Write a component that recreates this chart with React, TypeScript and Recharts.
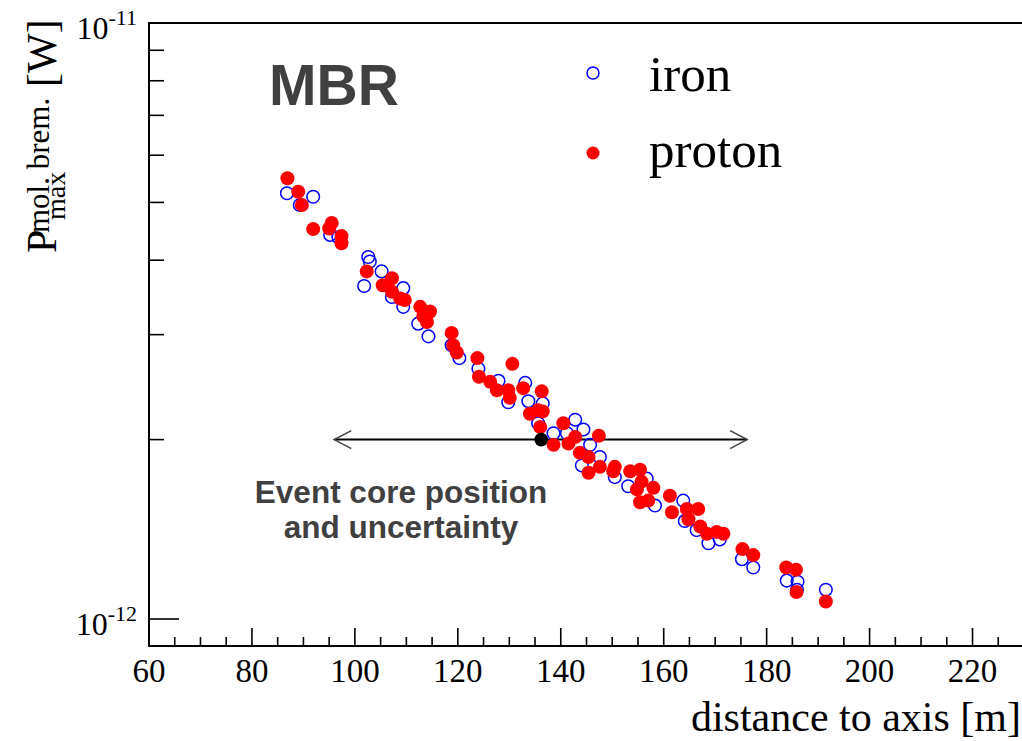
import React from 'react';
import { ScatterChart, Scatter, XAxis, YAxis, ReferenceArea, ReferenceLine, Legend, Label } from 'recharts';

// distances in m, peak power in units of 1e-12 W
const ironDistance = [
  86.8, 89.3, 91.9, 95.2, 96.8, 102.6, 102.9, 101.8, 105.2, 107.2, 109.4, 109.4, 112.3, 114.3, 118.8,
  120.3, 124.0, 127.9, 129.8, 133.1, 133.7, 136.5, 135.6, 138.6, 142.8, 141.2, 144.4, 145.7, 147.6, 144.1,
  150.5, 153.1, 156.7, 158.3, 163.8, 164.1, 166.4, 168.7, 170.9, 175.2, 177.4, 183.9, 186.0, 185.9, 191.5,
];
const ironPower = [
  5.18, 4.95, 5.11, 4.41, 4.37, 4.05, 3.98, 3.62, 3.83, 3.47, 3.59, 3.34, 3.13, 2.98, 2.88,
  2.74, 2.63, 2.51, 2.31, 2.49, 2.32, 2.30, 2.13, 2.05, 2.16, 2.05, 2.08, 1.96, 1.87, 1.81,
  1.73, 1.67, 1.72, 1.55, 1.58, 1.46, 1.41, 1.34, 1.36, 1.26, 1.22, 1.16, 1.155, 1.12, 1.12,
];

const protonDistance = [
  86.9, 89.0, 89.7, 91.9, 95.5, 95.0, 97.4, 97.4, 102.3, 105.4, 107.2, 107.2, 108.8, 109.7, 112.7,
  114.6, 113.3, 114.0, 118.8, 119.1, 119.8, 123.8, 124.1, 130.6, 126.3, 127.6, 129.8, 130.1, 132.7, 136.3,
  134.0, 135.6, 136.5, 136.0, 140.5, 138.6, 142.8, 141.5, 147.4, 143.7, 145.4, 145.4, 147.6, 150.2, 150.5,
  153.5, 155.4, 155.7, 154.8, 158.0, 155.4, 157.0, 161.2, 161.6, 164.5, 166.7, 164.8, 167.1, 168.4, 170.3,
  171.6, 175.3, 177.4, 183.8, 185.7, 185.8, 191.5,
];
const protonPower = [
  5.49, 5.21, 4.95, 4.51, 4.62, 4.52, 4.39, 4.27, 3.83, 3.63, 3.73, 3.54, 3.45, 3.43, 3.34,
  3.28, 3.22, 3.15, 3.02, 2.88, 2.80, 2.74, 2.55, 2.68, 2.50, 2.42, 2.42, 2.35, 2.44, 2.41,
  2.21, 2.24, 2.23, 2.10, 2.13, 1.96, 2.02, 1.97, 2.03, 1.90, 1.87, 1.76, 1.80, 1.77, 1.80,
  1.77, 1.78, 1.70, 1.65, 1.66, 1.57, 1.58, 1.61, 1.51, 1.53, 1.53, 1.47, 1.43, 1.39, 1.40,
  1.39, 1.31, 1.28, 1.22, 1.21, 1.11, 1.07,
];

const coreDistance = 136.2;
const corePower = 2.0;
const coreRange = [96.0, 176.2];

const xTicks = [
  60, 65, 70, 75, 80, 85, 90, 95, 100, 105, 110, 115, 120, 125, 130, 135, 140, 145, 150,
  155, 160, 165, 170, 175, 180, 185, 190, 195, 200, 205, 210, 215, 220, 225, 230,
];
const xLabelTicks = [60, 80, 100, 120, 140, 160, 180, 200, 220];
const yTicks = [1, 2, 3, 4, 5, 6, 7, 8, 9, 10];
const yLabels: Record<number, string> = { 1: '-12', 10: '-11' };
const rightTicks = [0.5, 0.6, 0.7, 0.8, 0.9, 1, 2, 3, 4, 5];

const seriesNames = ['iron', 'proton'];

const serif = "'Liberation Serif', 'Times New Roman', serif";
const sans = "'Liberation Sans', Arial, sans-serif";

const ironData = ironDistance.map((d, i) => ({ distance: d, power: ironPower[i] }));
const protonData = protonDistance.map((d, i) => ({ distance: d, power: protonPower[i] }));
const coreData = [{ distance: coreDistance, power: corePower }];

const XTick = (props: any) => {
  const { x, y, payload } = props;
  const v = payload.value;
  const major = v % 20 === 0;
  return (
    <g>
      {v > 60 && (
        <line x1={x} x2={x} y1={y} y2={y - (major ? 18 : 9)} stroke="#000" strokeWidth={1.6} />
      )}
      {major && xLabelTicks.includes(v) && (
        <text x={x} y={y + 36} textAnchor="middle" fontFamily={serif} fontSize={33} fill="#000">
          {v}
        </text>
      )}
    </g>
  );
};

const YTick = (props: any) => {
  const { x, y, payload } = props;
  const v = payload.value;
  const exp = yLabels[v];
  return (
    <g>
      {v < 10 && (
        <line x1={x} x2={x + (v === 1 ? 30 : 15)} y1={y} y2={y} stroke="#000" strokeWidth={1.6} />
      )}
      {exp && (
        <text x={x - 12} y={y + 16} textAnchor="end" fontFamily={serif} fill="#000">
          <tspan fontSize={32}>10</tspan>
          <tspan fontSize={22} dy={-14}>{exp}</tspan>
        </text>
      )}
    </g>
  );
};

const RightTick = (props: any) => {
  const { x, y, payload } = props;
  const v = payload.value;
  return <line x1={x} x2={x - (v === 1 ? 28 : 15)} y1={y} y2={y} stroke="#000" strokeWidth={1.6} />;
};

const ArrowShape = (props: any) => {
  const { x1, y1, x2, y2 } = props;
  return (
    <g>
      <line x1={x1} y1={y1} x2={x2} y2={y2} stroke="#000" strokeWidth={2} />
      <polyline points={`${x1 + 17},${y1 - 9} ${x1},${y1} ${x1 + 17},${y1 + 9}`} fill="none" stroke="#444" strokeWidth={1.6} />
      <polyline points={`${x2 - 17},${y2 - 9} ${x2},${y2} ${x2 - 17},${y2 + 9}`} fill="none" stroke="#444" strokeWidth={1.6} />
    </g>
  );
};

const IronDot = (props: any) => (
  <circle cx={props.cx} cy={props.cy} r={6.3} fill="none" stroke="#0000ff" strokeWidth={1.5} />
);
const ProtonDot = (props: any) => <circle cx={props.cx} cy={props.cy} r={7} fill="#ff0000" />;
const CoreDot = (props: any) => <circle cx={props.cx} cy={props.cy} r={6.8} fill="#000" />;

const LegendBox = () => (
  <svg width={260} height={150}>
    <circle cx={23} cy={33} r={6} fill="none" stroke="#0000ff" strokeWidth={1.5} />
    <text x={79} y={51} fontFamily={serif} fontSize={51} fill="#000">{seriesNames[0]}</text>
    <circle cx={23} cy={113} r={6.5} fill="#ff0000" />
    <text x={79} y={127} fontFamily={serif} fontSize={51} fill="#000">{seriesNames[1]}</text>
  </svg>
);

const YTitle = () => (
  <g transform="translate(56,253) rotate(-90)" fontFamily={serif} fill="#000">
    <text x={0} y={0} fontSize={42}>P</text>
    <text x={20} y={-7} fontSize={31}>mol. brem.</text>
    <text x={33} y={9} fontSize={28}>max</text>
    <text x={166} y={0} fontSize={42}>[W]</text>
  </g>
);

const XTitle = () => (
  <text x={1021} y={731} textAnchor="end" fontFamily={serif} fontSize={42} fill="#000">
    distance to axis [m]
  </text>
);

export default function App() {
  return (
    <div style={{ position: 'absolute', left: 0, top: 0, width: 1022, height: 741, overflow: 'hidden', background: '#fff' }}>
      <ScatterChart width={1030} height={741} margin={{ top: 23, right: 6, bottom: 0, left: 0 }}>
        <XAxis
          type="number"
          dataKey="distance"
          domain={[60, 230]}
          ticks={xTicks}
          interval={0}
          allowDataOverflow
          height={95}
          axisLine={false}
          tickLine={false}
          tickSize={0}
          tickMargin={0}
          tick={<XTick />}
        >
          <Label content={<XTitle />} />
        </XAxis>
        <YAxis
          type="number"
          dataKey="power"
          scale="log"
          domain={[0.901, 10]}
          ticks={yTicks}
          interval={0}
          allowDataOverflow
          width={149}
          axisLine={false}
          tickLine={false}
          tickSize={0}
          tickMargin={0}
          tick={<YTick />}
        >
          <Label content={<YTitle />} />
        </YAxis>
        <YAxis
          yAxisId="r"
          orientation="right"
          type="number"
          scale="log"
          domain={[0.4575, 5.14]}
          ticks={rightTicks}
          interval={0}
          allowDataOverflow
          width={0}
          axisLine={false}
          tickLine={false}
          tickSize={0}
          tickMargin={0}
          tick={<RightTick />}
        />
        <Legend
          layout="vertical"
          align="center"
          verticalAlign="middle"
          content={<LegendBox />}
          wrapperStyle={{ left: 570, top: 40, width: 260, height: 150 }}
        />
        <Scatter name="iron" data={ironData} shape={<IronDot />} isAnimationActive={false} />
        <Scatter name="proton" data={protonData} shape={<ProtonDot />} isAnimationActive={false} />
        <ReferenceLine
          segment={[
            { x: coreRange[0], y: corePower },
            { x: coreRange[1], y: corePower },
          ]}
          shape={<ArrowShape />}
        />
        <Scatter name="core" data={coreData} shape={<CoreDot />} isAnimationActive={false} legendType="none" />
        <ReferenceArea x1={60} x2={230} y1={0.901} y2={10} fill="none" fillOpacity={0} stroke="#000" strokeWidth={2} />
        <text x={269} y={105} fontFamily={sans} fontWeight="bold" fontSize={57} fill="#404040">MBR</text>
        <text x={401} y={503} textAnchor="middle" fontFamily={sans} fontWeight="bold" fontSize={31.5} fill="#404040">
          Event core position
        </text>
        <text x={401} y={538} textAnchor="middle" fontFamily={sans} fontWeight="bold" fontSize={31.5} fill="#404040">
          and uncertainty
        </text>
      </ScatterChart>
    </div>
  );
}
